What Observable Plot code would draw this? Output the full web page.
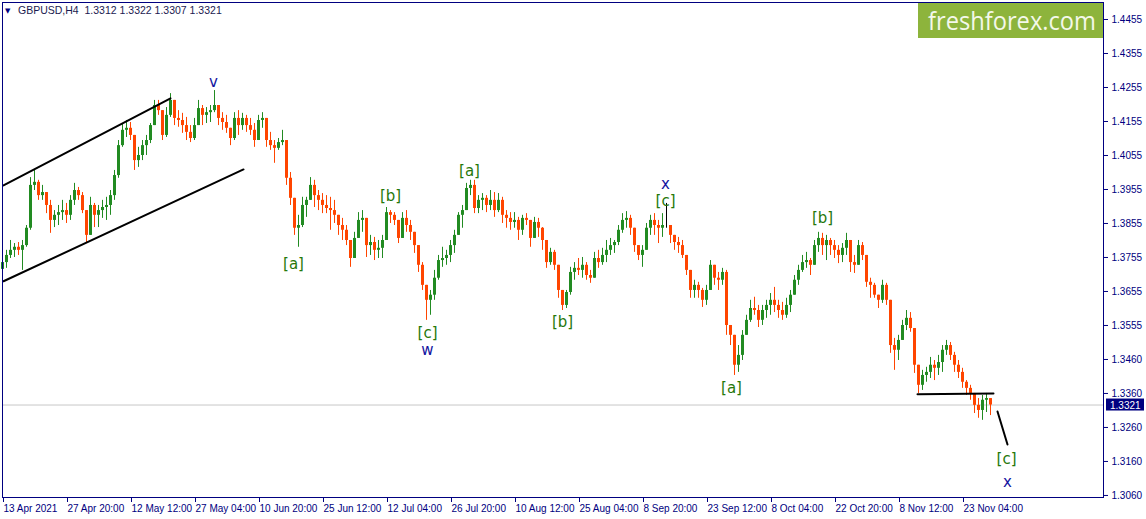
<!DOCTYPE html>
<html>
<head>
<meta charset="utf-8">
<script src="https://cdn.jsdelivr.net/npm/d3@7"></script>
<script src="https://cdn.jsdelivr.net/npm/@observablehq/plot@0.6"></script>
<style>
  html, body { margin: 0; padding: 0; background: #ffffff; }
  #chart svg { display: block; }
</style>
</head>
<body>
<div id="chart"></div>
<script>
// ---- Data (each candle = ~4 H4 bars) ----
const symbolTitle = "GBPUSD,H4";
const lastOHLC = [1.3312, 1.3322, 1.3307, 1.3321];
const firstOpen = 1.3720;
const high = [
1.3767,1.3776,1.3805,1.3796,1.3799,1.3805,1.3849,1.3990,1.4011,1.3982,
1.3967,1.3943,1.3923,1.3893,1.3908,1.3923,1.3914,1.3937,1.3973,1.3961,
1.3946,1.3879,1.3932,1.3914,1.3908,1.3923,1.3932,1.3952,1.4011,1.4099,
1.4149,1.4158,1.4152,1.4114,1.4079,1.4099,1.4114,1.4149,1.4217,1.4217,
1.4187,1.4196,1.4237,1.4202,1.4187,1.4179,1.4167,1.4143,1.4164,1.4217,
1.4202,1.4196,1.4202,1.4246,1.4202,1.4181,1.4173,1.4135,1.4181,1.4187,
1.4179,1.4173,1.4164,1.4149,1.4173,1.4181,1.4143,1.4123,1.4099,1.4105,
1.4129,1.4099,1.4005,1.3923,1.3879,1.3932,1.3932,1.3990,1.3982,1.3952,
1.3943,1.3937,1.3932,1.3923,1.3879,1.3870,1.3849,1.3796,1.3829,1.3887,
1.3893,1.3849,1.3820,1.3814,1.3805,1.3820,1.3902,1.3893,1.3887,1.3864,
1.3887,1.3893,1.3864,1.3826,1.3776,1.3740,1.3673,1.3658,1.3717,1.3761,
1.3785,1.3776,1.3805,1.3835,1.3887,1.3908,1.3973,1.3982,1.3982,1.3937,
1.3943,1.3937,1.3952,1.3946,1.3943,1.3932,1.3893,1.3887,1.3887,1.3873,
1.3879,1.3884,1.3855,1.3873,1.3870,1.3843,1.3782,1.3782,1.3776,1.3732,
1.3652,1.3658,1.3726,1.3740,1.3752,1.3755,1.3740,1.3717,1.3770,1.3776,
1.3782,1.3805,1.3811,1.3805,1.3849,1.3884,1.3890,1.3879,1.3835,1.3790,
1.3790,1.3855,1.3879,1.3884,1.3864,1.3884,1.3914,1.3849,1.3820,1.3814,
1.3805,1.3761,1.3717,1.3688,1.3682,1.3664,1.3673,1.3746,1.3732,1.3711,
1.3723,1.3717,1.3555,1.3511,1.3496,1.3540,1.3585,1.3629,1.3638,1.3614,
1.3614,1.3629,1.3649,1.3667,1.3629,1.3623,1.3635,1.3658,1.3702,1.3732,
1.3761,1.3770,1.3752,1.3805,1.3829,1.3826,1.3820,1.3811,1.3805,1.3790,
1.3796,1.3826,1.3776,1.3761,1.3805,1.3799,1.3761,1.3694,1.3679,1.3644,
1.3688,1.3679,1.3629,1.3517,1.3526,1.3570,1.3599,1.3593,1.3546,1.3438,
1.3423,1.3432,1.3461,1.3452,1.3467,1.3496,1.3511,1.3505,1.3476,1.3452,
1.3429,1.3393,1.3379,1.3355,1.3340,1.3349,1.3355,1.3322
];
const low = [
1.3696,1.3723,1.3752,1.3755,1.3761,1.3717,1.3785,1.3835,1.3952,1.3923,
1.3923,1.3884,1.3826,1.3843,1.3849,1.3864,1.3855,1.3864,1.3908,1.3923,
1.3884,1.3799,1.3820,1.3843,1.3843,1.3870,1.3864,1.3879,1.3923,1.3988,
1.4079,1.4108,1.4099,1.4011,1.4020,1.4040,1.4055,1.4090,1.4143,1.4173,
1.4099,1.4108,1.4167,1.4143,1.4138,1.4120,1.4099,1.4093,1.4099,1.4149,
1.4143,1.4149,1.4152,1.4181,1.4143,1.4129,1.4120,1.4084,1.4099,1.4114,
1.4129,1.4123,1.4114,1.4079,1.4099,1.4135,1.4079,1.4070,1.4032,1.4070,
1.4084,1.3967,1.3908,1.3820,1.3785,1.3843,1.3873,1.3923,1.3902,1.3893,
1.3884,1.3884,1.3835,1.3855,1.3820,1.3805,1.3790,1.3726,1.3761,1.3820,
1.3829,1.3755,1.3761,1.3746,1.3752,1.3752,1.3835,1.3855,1.3849,1.3796,
1.3814,1.3829,1.3805,1.3767,1.3711,1.3658,1.3570,1.3585,1.3629,1.3688,
1.3726,1.3732,1.3740,1.3767,1.3820,1.3841,1.3893,1.3937,1.3884,1.3884,
1.3893,1.3887,1.3893,1.3873,1.3887,1.3855,1.3841,1.3835,1.3841,1.3805,
1.3820,1.3849,1.3785,1.3820,1.3814,1.3776,1.3723,1.3732,1.3717,1.3635,
1.3599,1.3605,1.3644,1.3688,1.3702,1.3694,1.3688,1.3679,1.3702,1.3723,
1.3732,1.3740,1.3761,1.3767,1.3790,1.3826,1.3841,1.3820,1.3770,1.3746,
1.3726,1.3785,1.3820,1.3820,1.3796,1.3814,1.3841,1.3796,1.3776,1.3767,
1.3752,1.3702,1.3635,1.3635,1.3635,1.3608,1.3614,1.3673,1.3673,1.3658,
1.3673,1.3526,1.3496,1.3408,1.3417,1.3452,1.3526,1.3564,1.3585,1.3549,
1.3555,1.3576,1.3585,1.3593,1.3576,1.3570,1.3576,1.3593,1.3644,1.3673,
1.3711,1.3723,1.3702,1.3732,1.3770,1.3761,1.3746,1.3761,1.3752,1.3737,
1.3740,1.3761,1.3711,1.3708,1.3740,1.3746,1.3667,1.3635,1.3635,1.3605,
1.3620,1.3614,1.3473,1.3423,1.3452,1.3511,1.3540,1.3535,1.3414,1.3355,
1.3364,1.3388,1.3399,1.3393,1.3408,1.3417,1.3467,1.3452,1.3417,1.3399,
1.3370,1.3349,1.3335,1.3296,1.3282,1.3276,1.3299,1.3290
];
const close = [
1.3740,1.3761,1.3776,1.3785,1.3776,1.3790,1.3841,1.3967,1.3976,1.3937,
1.3946,1.3908,1.3864,1.3879,1.3887,1.3893,1.3879,1.3923,1.3952,1.3937,
1.3893,1.3820,1.3908,1.3879,1.3893,1.3902,1.3908,1.3937,1.3996,1.4084,
1.4129,1.4135,1.4114,1.4040,1.4055,1.4084,1.4099,1.4143,1.4202,1.4187,
1.4114,1.4173,1.4217,1.4164,1.4158,1.4143,1.4123,1.4105,1.4143,1.4193,
1.4173,1.4181,1.4187,1.4202,1.4164,1.4152,1.4135,1.4105,1.4164,1.4143,
1.4164,1.4143,1.4129,1.4099,1.4158,1.4164,1.4099,1.4084,1.4076,1.4093,
1.4099,1.3988,1.3929,1.3841,1.3849,1.3908,1.3923,1.3967,1.3937,1.3923,
1.3908,1.3899,1.3893,1.3879,1.3849,1.3835,1.3805,1.3752,1.3811,1.3864,
1.3870,1.3790,1.3799,1.3776,1.3782,1.3805,1.3887,1.3879,1.3864,1.3811,
1.3870,1.3849,1.3829,1.3790,1.3732,1.3673,1.3629,1.3644,1.3694,1.3746,
1.3752,1.3761,1.3790,1.3820,1.3879,1.3893,1.3958,1.3967,1.3899,1.3923,
1.3929,1.3908,1.3923,1.3893,1.3923,1.3879,1.3870,1.3858,1.3864,1.3835,
1.3870,1.3864,1.3811,1.3858,1.3841,1.3805,1.3740,1.3770,1.3732,1.3658,
1.3614,1.3652,1.3711,1.3723,1.3717,1.3732,1.3702,1.3694,1.3752,1.3740,
1.3761,1.3776,1.3790,1.3799,1.3835,1.3864,1.3870,1.3841,1.3790,1.3761,
1.3776,1.3841,1.3864,1.3849,1.3841,1.3849,1.3849,1.3820,1.3799,1.3790,
1.3761,1.3717,1.3658,1.3673,1.3658,1.3629,1.3658,1.3732,1.3694,1.3688,
1.3711,1.3555,1.3526,1.3438,1.3467,1.3526,1.3570,1.3605,1.3599,1.3570,
1.3599,1.3614,1.3629,1.3614,1.3599,1.3585,1.3614,1.3644,1.3688,1.3717,
1.3740,1.3746,1.3732,1.3790,1.3811,1.3790,1.3805,1.3790,1.3776,1.3761,
1.3782,1.3805,1.3740,1.3732,1.3790,1.3761,1.3682,1.3673,1.3644,1.3629,
1.3673,1.3629,1.3496,1.3482,1.3511,1.3555,1.3576,1.3546,1.3438,1.3379,
1.3408,1.3417,1.3438,1.3429,1.3446,1.3482,1.3496,1.3467,1.3438,1.3417,
1.3388,1.3370,1.3355,1.3320,1.3305,1.3335,1.3340,1.3321
];

// Axis ticks
const xTickPos = [0,16,32,48,64,80,96,112,128,144,160,176,192,208,224,240];
const xTickLabels = ["13 Apr 2021","27 Apr 20:00","12 May 12:00","27 May 04:00","10 Jun 20:00",
  "25 Jun 12:00","12 Jul 04:00","26 Jul 20:00","10 Aug 12:00","25 Aug 04:00","8 Sep 20:00",
  "23 Sep 12:00","8 Oct 04:00","22 Oct 20:00","8 Nov 12:00","23 Nov 04:00"];
const yTickValues = [1.4455,1.4355,1.4255,1.4155,1.4055,1.3955,1.3855,1.3755,1.3655,1.3555,1.3455,1.3355,1.3255,1.3155,1.3055];
const yTickLabels = ["1.4455","1.4355","1.4255","1.4155","1.4055","1.3955","1.3855","1.3755","1.3655","1.3555","1.3460","1.3360","1.3260","1.3160","1.3060"];

// Drawn lines (bar position, price)
const channelUpper = [{x: 0.25, y: 1.3967}, {x: 42, y: 1.4223}];
const channelLower = [{x: 0.25, y: 1.3685}, {x: 60.25, y: 1.4014}];
const levelLine = [{x: 228.75, y: 1.3353}, {x: 247.75, y: 1.3355}];
const projection = [{x: 248.75, y: 1.3302}, {x: 251.25, y: 1.3205}];

// Wave labels
const waveLabels = [
  {x: 52.75, y: 1.4272, t: "v", k: "major"},
  {x: 72.75, y: 1.3735, t: "[a]", k: "minor"},
  {x: 97, y: 1.3935, t: "[b]", k: "minor"},
  {x: 106.25, y: 1.3532, t: "[c]", k: "minor"},
  {x: 106.25, y: 1.3482, t: "w", k: "major"},
  {x: 116.75, y: 1.4008, t: "[a]", k: "minor"},
  {x: 140, y: 1.3564, t: "[b]", k: "minor"},
  {x: 165.75, y: 1.3970, t: "x", k: "major"},
  {x: 165.75, y: 1.3920, t: "[c]", k: "minor"},
  {x: 182.25, y: 1.3370, t: "[a]", k: "minor"},
  {x: 205, y: 1.3870, t: "[b]", k: "minor"},
  {x: 251, y: 1.3163, t: "[c]", k: "minor"},
  {x: 251.25, y: 1.3094, t: "x", k: "major"}
];

// ---- Build ----
const candles = close.map((c, i) => {
  const o = i === 0 ? firstOpen : close[i - 1];
  return {i, o, h: high[i], l: low[i], c,
    col: c > o ? "#228b22" : c < o ? "#ff4500" : "#000000"};
});
const lastClose = lastOHLC[3];
const navy = "#000080";

const plot = Plot.plot({
  width: 1146,
  height: 519,
  marginLeft: 2,
  marginRight: 43,
  marginTop: 2,
  marginBottom: 22,
  style: {fontFamily: "'Liberation Sans', Arial, sans-serif", fontSize: "10px", color: navy, background: "#ffffff"},
  x: {domain: [0, 275.25]},
  y: {domain: [1.3049, 1.4505]},
  marks: [
    Plot.ruleY([lastClose], {stroke: "#c8c8c8", strokeWidth: 1}),
    Plot.ruleX(candles, {x: "i", y1: d => Math.min(d.l, d.o, d.c), y2: d => Math.max(d.h, d.o, d.c), stroke: "col", strokeWidth: 1}),
    Plot.ruleX(candles, {x: "i", y1: "o", y2: "c", stroke: "col", strokeWidth: 3}),
    Plot.line(channelUpper, {x: "x", y: "y", stroke: "#000", strokeWidth: 2}),
    Plot.line(channelLower, {x: "x", y: "y", stroke: "#000", strokeWidth: 2}),
    Plot.line(levelLine, {x: "x", y: "y", stroke: "#000", strokeWidth: 2}),
    Plot.line(projection, {x: "x", y: "y", stroke: "#000", strokeWidth: 2}),
    Plot.text(waveLabels, {x: "x", y: "y", text: "t",
      fill: d => d.k === "major" ? "#1414a0" : "#26780a",
      fontSize: 15, fontFamily: "'DejaVu Sans', sans-serif"}),
    Plot.axisX({ticks: xTickPos, tickFormat: d => xTickLabels[xTickPos.indexOf(d)],
      tickSize: 5, tickPadding: 2, textAnchor: "start", dx: 1, label: null}),
    Plot.axisY({anchor: "right", ticks: yTickValues, tickFormat: d => yTickLabels[yTickValues.indexOf(d)],
      tickSize: 4, tickPadding: 4, label: null}),
    Plot.frame({stroke: navy, strokeWidth: 1})
  ]
});

document.getElementById("chart").appendChild(plot);

// Overlays drawn in pixel space of the SVG
const svg = d3.select(plot);
const yScale = plot.scale("y");
const yLast = yScale.apply(lastClose);
const overlay = svg.append("g").attr("text-anchor", "start");

// last price badge on right axis
overlay.append("rect").attr("x", 1106).attr("y", yLast - 6).attr("width", 38).attr("height", 12).attr("fill", navy);
overlay.append("text").attr("x", 1110).attr("y", yLast + 4).attr("fill", "#ffffff")
  .attr("font-family", "'Liberation Sans', Arial, sans-serif").attr("font-size", 10).text(lastClose.toFixed(4));

// header
overlay.append("text").attr("x", 5).attr("y", 13).attr("fill", navy).attr("font-size", 7)
  .attr("font-family", "'DejaVu Sans', sans-serif").text("▼");
overlay.append("text").attr("x", 18).attr("y", 14).attr("fill", "#1a1a50")
  .attr("font-family", "'Liberation Sans', Arial, sans-serif").attr("font-size", 10.5)
  .text(symbolTitle + "  " + lastOHLC.map(v => v.toFixed(4)).join(" "));

// logo
overlay.append("rect").attr("x", 918).attr("y", 3).attr("width", 185).attr("height", 35).attr("fill", "#8db43c");
overlay.append("text").attr("x", 928).attr("y", 30).attr("fill", "#f4f8ea")
  .attr("font-family", "'Open Sans', sans-serif").attr("font-size", 26)
  .attr("textLength", 168).attr("lengthAdjust", "spacingAndGlyphs").text("freshforex.com");
</script>
</body>
</html>
